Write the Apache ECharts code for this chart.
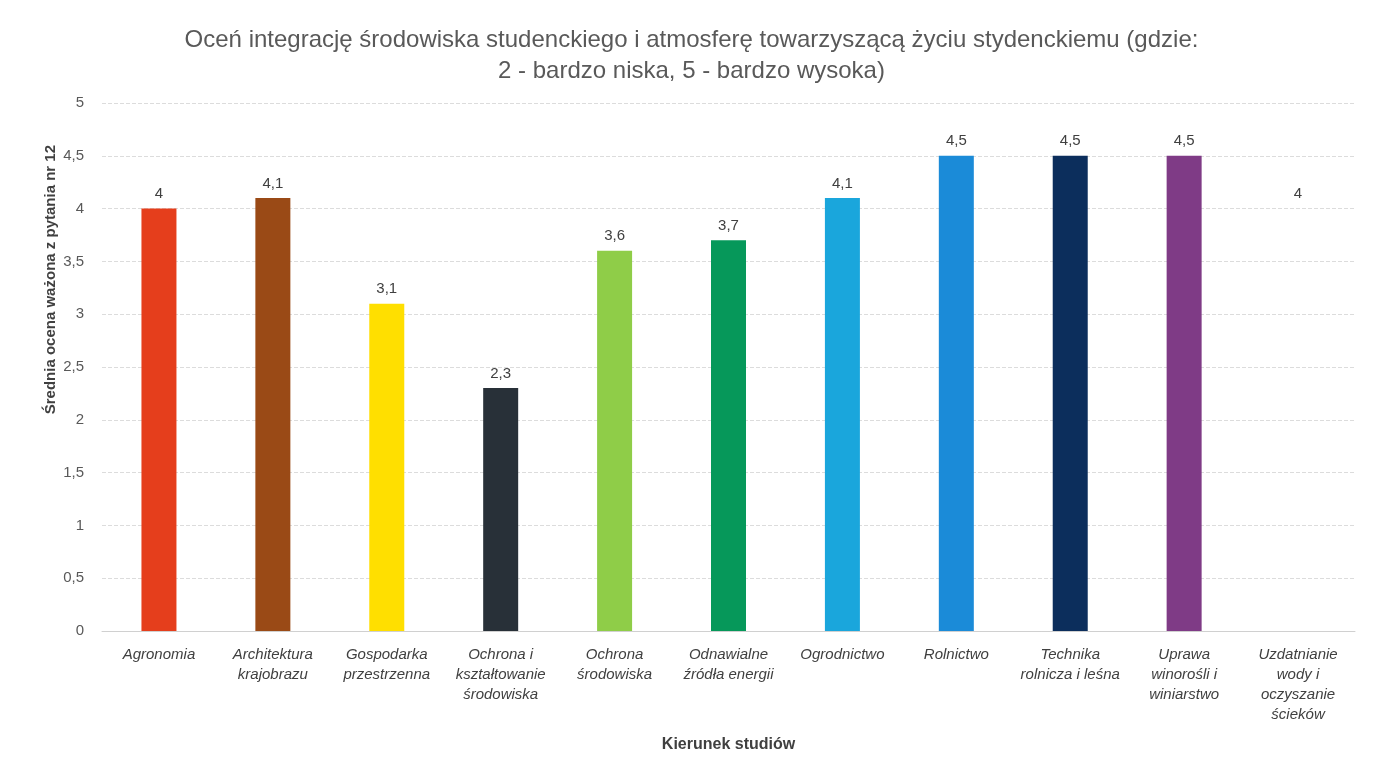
<!DOCTYPE html>
<html>
<head>
<meta charset="utf-8">
<script src="https://cdn.jsdelivr.net/npm/echarts@6/dist/echarts.min.js"></script>
<style>
html,body{margin:0;padding:0;background:#fff;}
#chart{width:1383px;height:772px;}
</style>
</head>
<body>
<div id="chart"></div>
<script>
var categories = [
  "Agronomia",
  "Architektura\nkrajobrazu",
  "Gospodarka\nprzestrzenna",
  "Ochrona i\nkształtowanie\nśrodowiska",
  "Ochrona\nśrodowiska",
  "Odnawialne\nźródła energii",
  "Ogrodnictwo",
  "Rolnictwo",
  "Technika\nrolnicza i leśna",
  "Uprawa\nwinorośli i\nwiniarstwo",
  "Uzdatnianie\nwody i\noczyszanie\nścieków"
];
var values = [4, 4.1, 3.1, 2.3, 3.6, 3.7, 4.1, 4.5, 4.5, 4.5, 4];
var barColors = ["#e53e1c", "#9a4a16", "#ffdf00", "#283038", "#8fcd48", "#06985a", "#1aa6dc", "#1b8bd8", "#0c2e5c", "#7f3b86", "rgba(255,255,255,0)"];
var yTicks = [0, 0.5, 1, 1.5, 2, 2.5, 3, 3.5, 4, 4.5, 5];
var titleLines = ["Oceń integrację środowiska studenckiego i atmosferę towarzyszącą życiu stydenckiemu (gdzie:", "2 - bardzo niska, 5 - bardzo wysoka)"];
var yName = "Średnia ocena ważona z pytania nr 12";
var xName = "Kierunek studiów";

function fmt(v){ return String(v).replace('.', ','); }

var chart = echarts.init(document.getElementById('chart'));
var font = "Liberation Sans, Arial, sans-serif";
chart.setOption({
  backgroundColor: '#ffffff',
  animation: false,
  title: {
    text: titleLines.join('\n'),
    left: 'center',
    top: 20,
    textStyle: {fontFamily: font, fontSize: 24, fontWeight: 'normal', color: '#595959', lineHeight: 31}
  },
  grid: {left: 102, right: 28, top: 103, bottom: 141, containLabel: false},
  xAxis: {
    type: 'category',
    data: categories,
    name: xName,
    nameLocation: 'middle',
    nameGap: 106,
    nameTextStyle: {fontFamily: font, fontSize: 16, fontWeight: 'bold', color: '#404040'},
    axisLine: {lineStyle: {color: '#d0d0d0'}},
    axisTick: {show: false},
    axisLabel: {interval: 0, fontFamily: font, fontStyle: 'italic', fontSize: 15, color: '#404040', lineHeight: 20, margin: 14}
  },
  yAxis: {
    type: 'value',
    min: 0, max: 5, interval: 0.5,
    axisLine: {show: false},
    axisTick: {show: false},
    splitLine: {lineStyle: {color: '#dcdcdc', type: 'dashed'}},
    axisLabel: {fontFamily: font, fontSize: 15, color: '#595959', margin: 18, formatter: function(v){ return yTicks.indexOf(v) >= 0 ? fmt(v) : ''; }}
  },
  graphic: [{
    type: 'text',
    left: 43,
    top: 145,
    rotation: Math.PI/2,
    style: {text: yName, font: 'bold 15px ' + font, fill: '#404040'}
  }],
  series: [{
    type: 'bar',
    barWidth: 35,
    data: values.map(function(v, i){ return {value: v, itemStyle: {color: barColors[i]}}; }),
    label: {show: true, position: 'top', distance: 7, fontFamily: font, fontSize: 15, color: '#404040', formatter: function(p){ return fmt(p.value); }}
  }]
});
</script>
</body>
</html>
